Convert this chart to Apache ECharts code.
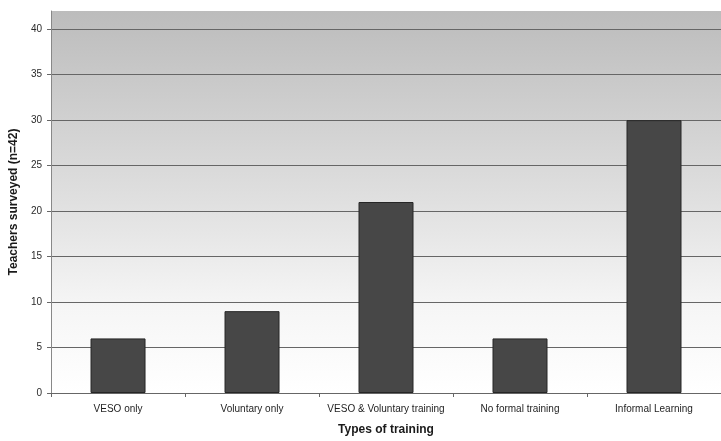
<!DOCTYPE html>
<html>
<head>
<meta charset="utf-8">
<script src="https://cdn.jsdelivr.net/npm/echarts@6/dist/echarts.min.js"></script>
<style>
  html, body { margin: 0; padding: 0; background: #ffffff; }
  #chart { width: 721px; height: 441px; }
</style>
</head>
<body>
<div id="chart"></div>
<script>
// Training types and number of teachers per type
const categories = ['VESO only', 'Voluntary only', 'VESO & Voluntary training', 'No formal training', 'Informal Learning'];
const teacherCounts = [6, 9, 21, 6, 30];

// Horizontal gridlines at 0..40; the top edge of the plot (42) has none
const gridColors = ['#666666', '#666666', '#666666', '#666666', '#666666', '#666666', '#666666', '#666666', '#666666', 'rgba(0,0,0,0)'];

const chart = echarts.init(document.getElementById('chart'), null, { renderer: 'canvas' });

chart.setOption({
  animation: false,
  backgroundColor: '#ffffff',
  grid: {
    left: 48,
    top: 11,
    width: 680,
    height: 385,
    show: true,
    borderWidth: 0,
    backgroundColor: {
      type: 'linear', x: 0, y: 0, x2: 0, y2: 1,
      colorStops: [
        { offset: 0, color: '#bcbcbc' },
        { offset: 0.5, color: '#e0e0e0' },
        { offset: 0.78, color: '#f6f6f6' },
        { offset: 1, color: '#ffffff' }
      ]
    }
  },
  xAxis: {
    type: 'category',
    data: categories,
    name: 'Types of training',
    nameLocation: 'middle',
    nameGap: 31,
    nameTextStyle: { fontFamily: 'Liberation Sans', fontWeight: 'bold', fontSize: 12, color: '#1a1a1a' },
    axisLine: { lineStyle: { color: '#666666', width: 1 } },
    axisTick: { show: true, length: 4, lineStyle: { color: '#666666' } },
    axisLabel: { interval: 0, fontFamily: 'Liberation Sans', fontSize: 10, color: '#1e1e1e', margin: 11 }
  },
  yAxis: {
    type: 'value',
    min: 0,
    max: 42,
    interval: 5,
    name: 'Teachers surveyed (n=42)',
    nameLocation: 'middle',
    nameGap: 31,
    nameTextStyle: { fontFamily: 'Liberation Sans', fontWeight: 'bold', fontSize: 12, color: '#1a1a1a' },
    axisLine: { show: true, lineStyle: { color: '#888888', width: 1 } },
    axisTick: { show: true, length: 4, lineStyle: { color: '#666666' } },
    axisLabel: {
      showMaxLabel: false,
      fontFamily: 'Liberation Sans', fontSize: 10, color: '#2a2a2a', margin: 9
    },
    splitLine: { show: true, lineStyle: { color: gridColors, width: 1 } }
  },
  series: [{
    type: 'bar',
    data: teacherCounts,
    barWidth: 55,
    itemStyle: { color: '#474747', borderColor: '#262626', borderWidth: 1 }
  }]
});
</script>
</body>
</html>
